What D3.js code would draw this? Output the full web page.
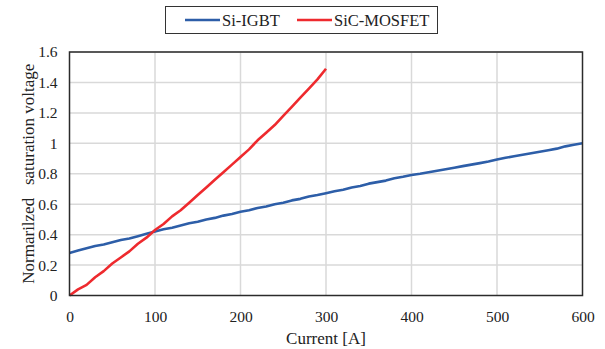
<!DOCTYPE html>
<html><head><meta charset="utf-8">
<script src="https://cdn.jsdelivr.net/npm/d3@7"></script>
<style>
html,body{margin:0;padding:0;background:#fff;}
svg text{font-family:"Liberation Serif","Times New Roman",serif;fill:#222;}
</style></head>
<body>
<svg id="chart" width="605" height="349"></svg>
<script>
const seriesNames = ["Si-IGBT", "SiC-MOSFET"];
const seriesColors = ["#2d5ea8", "#ee2a2e"];
const igbtCurrent = [0,10,20,30,40,50,60,70,80,90,100,110,120,130,140,150,160,170,180,190,200,210,220,230,240,250,260,270,280,290,300,310,320,330,340,350,360,370,380,390,400,410,420,430,440,450,460,470,480,490,500,510,520,530,540,550,560,570,580,590,600];
const igbtValues = [0.28,0.295,0.31,0.325,0.335,0.35,0.365,0.375,0.39,0.405,0.42,0.435,0.445,0.46,0.475,0.485,0.5,0.51,0.525,0.535,0.55,0.56,0.575,0.585,0.6,0.61,0.625,0.635,0.65,0.66,0.672,0.685,0.695,0.71,0.72,0.735,0.745,0.755,0.77,0.78,0.792,0.8,0.81,0.82,0.83,0.84,0.85,0.86,0.87,0.88,0.893,0.905,0.915,0.925,0.935,0.945,0.955,0.965,0.98,0.99,1.0];
const mosfetCurrent = [0,10,20,30,40,50,60,70,80,90,100,110,120,130,140,150,160,170,180,190,200,210,220,230,240,250,260,270,280,290,300];
const mosfetValues = [0.0,0.04,0.07,0.12,0.16,0.21,0.25,0.29,0.34,0.38,0.43,0.47,0.52,0.56,0.61,0.66,0.71,0.76,0.81,0.86,0.91,0.96,1.02,1.07,1.12,1.18,1.24,1.30,1.36,1.42,1.49];
const xTicks = [0,100,200,300,400,500,600];
const yTicks = [0,0.2,0.4,0.6,0.8,1,1.2,1.4,1.6];
const xTitle = "Current [A]";
const yTitle = "Normarilzed   saturation voltage";

const svg = d3.select("#chart");
const L = 69.5, R = 582.5, T = 52, B = 295.5;
const x = d3.scaleLinear().domain([0,600]).range([L,R]);
const y = d3.scaleLinear().domain([0,1.6]).range([B,T]);

svg.append("g").selectAll("line").data(yTicks.slice(1)).join("line")
  .attr("x1",L).attr("x2",R).attr("y1",d=>y(d)).attr("y2",d=>y(d))
  .attr("stroke","#d9d9d9").attr("stroke-width",1.5);
svg.append("g").selectAll("line").data(xTicks.slice(1,-1)).join("line")
  .attr("y1",T).attr("y2",B).attr("x1",d=>x(d)).attr("x2",d=>x(d))
  .attr("stroke","#d9d9d9").attr("stroke-width",1.5);

const line = d3.line().x(d=>x(d[0])).y(d=>y(d[1]));
const igbt = igbtCurrent.map((c,i)=>[c,igbtValues[i]]);
const mosfet = mosfetCurrent.map((c,i)=>[c,mosfetValues[i]]);
svg.append("path").datum(igbt).attr("d",line).attr("fill","none")
  .attr("stroke",seriesColors[0]).attr("stroke-width",2.6).attr("stroke-linejoin","round");
svg.append("path").datum(mosfet).attr("d",line).attr("fill","none")
  .attr("stroke",seriesColors[1]).attr("stroke-width",2.6).attr("stroke-linejoin","round");

svg.append("rect").attr("x",L).attr("y",T).attr("width",R-L).attr("height",B-T)
  .attr("fill","none").attr("stroke","#2b2b2b").attr("stroke-width",1.5);

const xAxis = svg.append("g").attr("transform",`translate(0,${B})`)
  .call(d3.axisBottom(x).tickValues(xTicks).tickSize(0).tickPadding(15).tickFormat(d3.format("d")));
const yAxis = svg.append("g").attr("transform",`translate(${L},0)`)
  .call(d3.axisLeft(y).tickValues(yTicks).tickSize(0).tickPadding(12).tickFormat(d=>String(d)));
[xAxis,yAxis].forEach(a=>{
  a.select(".domain").remove();
  a.attr("font-family",null).attr("font-size",null);
  a.selectAll("text").style("font-family","'Liberation Serif', serif").style("font-size","15.5px").style("fill","#222");
});

svg.append("text").attr("x",(L+R)/2).attr("y",344).attr("text-anchor","middle")
  .style("font-size","17px").text(xTitle);
svg.append("text").attr("transform",`translate(34,${(T+B)/2}) rotate(-90)`)
  .attr("text-anchor","middle").style("font-size","17px").attr("xml:space","preserve")
  .style("white-space","pre").text(yTitle);

const lg = svg.append("g");
lg.append("rect").attr("x",165.5).attr("y",6.5).attr("width",272).attr("height",27)
  .attr("fill","#fff").attr("stroke","#333").attr("stroke-width",1);
const legX = [185, 297];
seriesNames.forEach((n,i)=>{
  lg.append("line").attr("x1",legX[i]).attr("x2",legX[i]+35).attr("y1",20).attr("y2",20)
    .attr("stroke",seriesColors[i]).attr("stroke-width",2.6);
  lg.append("text").attr("x",legX[i]+37).attr("y",25.5).style("font-size","16.5px").text(n);
});
</script>
</body></html>
